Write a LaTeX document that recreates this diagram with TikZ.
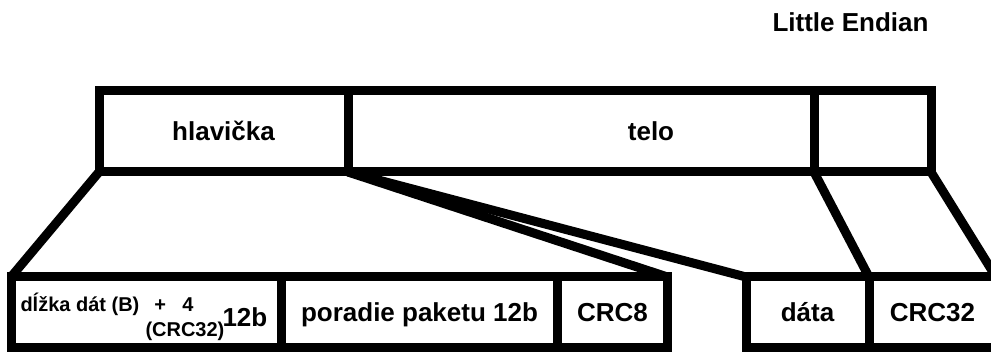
\documentclass[tikz,border=0pt]{standalone}
\usepackage{fontspec}
\setmainfont{Liberation Sans}
\usetikzlibrary{positioning}

\begin{document}
\begin{tikzpicture}[x=1pt,y=-1pt,line width=9pt]
  \tikzset{pktfield/.style={rectangle,draw,inner sep=0pt,outer sep=0pt,
      text height=19pt,text depth=0pt,font=\bfseries\fontsize{26}{30}\selectfont}}
  \tikzset{toprow/.style={pktfield,minimum height=81pt}}
  \tikzset{botrow/.style={pktfield,minimum height=71pt}}
  \tikzset{txt/.style={inner sep=0pt,font=\bfseries\fontsize{26}{30}\selectfont}}
  \tikzset{smalltxt/.style={inner sep=0pt,font=\bfseries\fontsize{20}{24}\selectfont}}
  \tikzset{link/.style={draw,line width=9pt}}

  \useasboundingbox (0,0) rectangle (991,352);
  \clip (0,0) rectangle (991,352);

  \node[txt,anchor=base east] (endian) at (933,32) {Little Endian};

  % ramec
  \node[toprow,minimum width=249pt] (head) at (223.5,131.5) {hlavička};
  \node[toprow,minimum width=466pt] (body) at (581,131.5) {};
  \node[txt,anchor=base] (bodytxt) at (651,141) {telo};
  \node[toprow,minimum width=117pt] (tail) at (872.5,131.5) {};

  % hlavicka
  \node[botrow,minimum width=270.5pt] (len) at (146.25,312.5) {};
  \node[smalltxt,anchor=base west] (lentxt) at (16,312) {dĺžka dát (B)};
  \node[smalltxt,base right=6pt of lentxt] (plus) {+};
  \node[smalltxt,anchor=base] (four) at (188,312) {4};
  \node[smalltxt,anchor=base west] (crcnote) at (141,337) {(CRC32)};
  \node[txt,anchor=base west] (lenbits) at (218,327) {12b};
  \node[botrow,minimum width=276pt] (seq) at (419.5,312.5) {poradie paketu 12b};
  \node[botrow,minimum width=110pt] (crc8) at (612.5,312.5) {CRC8};

  % telo
  \node[botrow,minimum width=123pt] (data) at (807.5,312.5) {dáta};
  \node[botrow,minimum width=127pt] (crc32) at (932.5,312.5) {CRC32};

  \draw[link] (head.south west) -- (len.north west);
  \draw[link] (head.south east) -- (crc8.north east);
  \draw[link] (head.south east) -- (data.north west);
  \draw[link] (body.south east) -- (data.north east);
  \draw[link] (tail.south east) -- (crc32.north east);
\end{tikzpicture}
\end{document}
